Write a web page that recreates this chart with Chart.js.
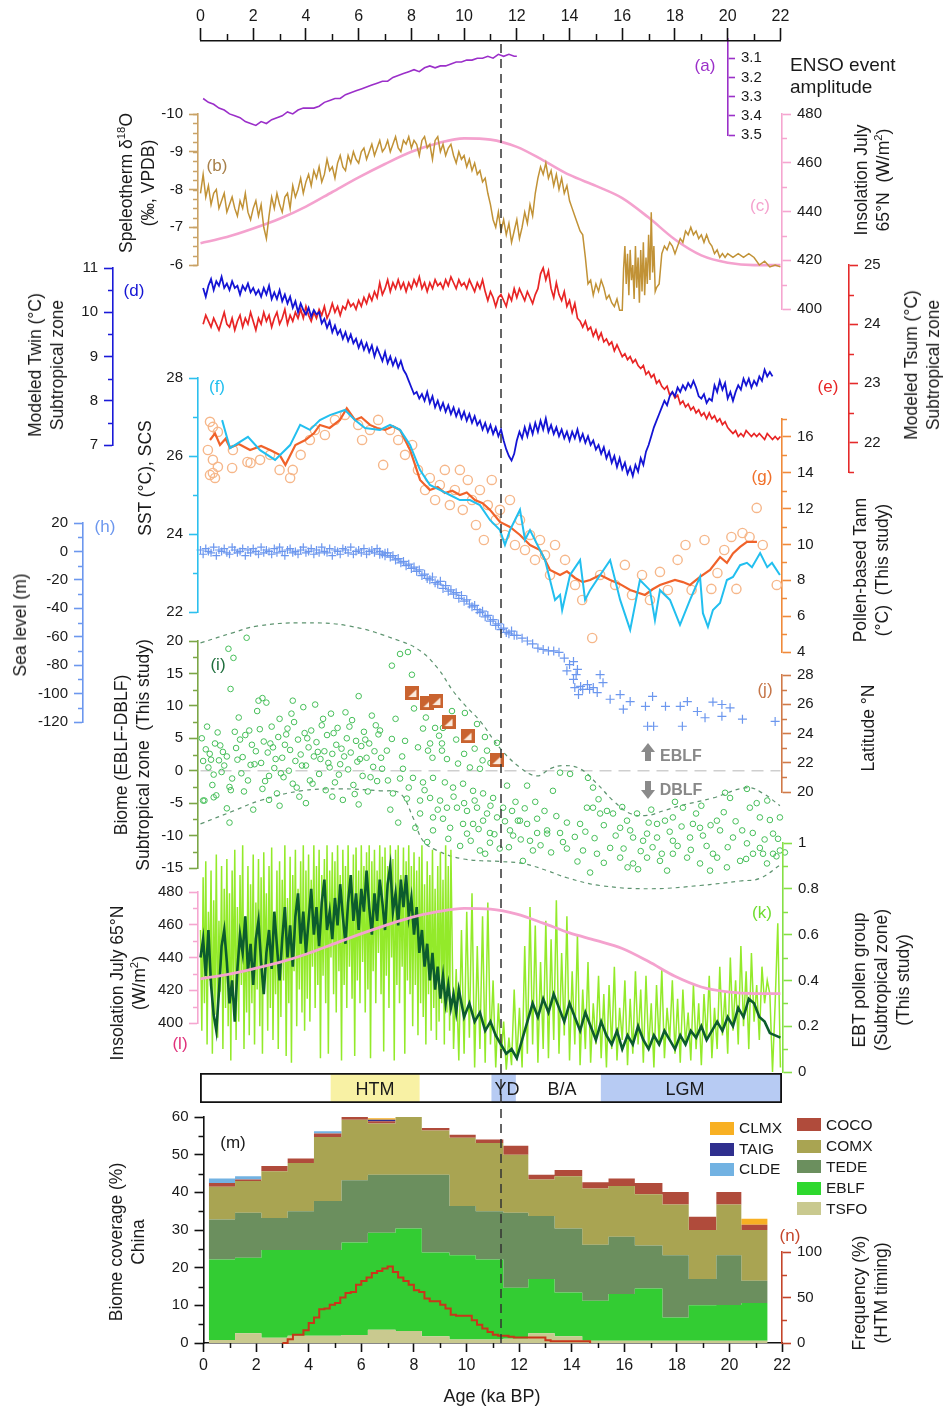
<!DOCTYPE html>
<html lang="en">
<head>
<meta charset="UTF-8">
<title>Holocene records, subtropical China</title>
<script src="https://cdn.jsdelivr.net/npm/chart.js@4"></script>
<style>
  body { margin: 0; background: #fff; }
  #fig { position: relative; width: 943px; height: 1408px; overflow: hidden; background: #fff;
         font-family: "Liberation Sans", Arial, sans-serif; color: #1a1a1a; }
  #fig canvas { position: absolute; left: 0; }
  .t { position: absolute; white-space: nowrap; font-size: 17px; transform: translate(-50%, -50%); }
  .v { position: absolute; white-space: pre; text-align: center; font-size: 17.5px; line-height: 22px;
       transform: translate(-50%, -50%) rotate(-90deg); }
  sup { font-size: 0.65em; line-height: 0; vertical-align: 0.6em; }
  .sw { position: absolute; width: 24px; height: 13px; }
  .lg { position: absolute; font-size: 15.5px; transform: translateY(-50%); }
  .arrow { position: absolute; width: 14px; }
  .arrow .stem { width: 6px; height: 9px; background: #8a8a8a; margin-left: 4px; }
  .arrow .up { width: 0; height: 0; border-left: 7px solid transparent; border-right: 7px solid transparent; border-bottom: 9px solid #8a8a8a; }
  .arrow .dn { width: 0; height: 0; border-left: 7px solid transparent; border-right: 7px solid transparent; border-top: 9px solid #8a8a8a; }
</style>
</head>
<body>
<div id="fig"></div>
<script>
// ---------- data (age in ka BP) ----------
const ensoAge = [0.1,0.3,0.5,0.7,0.9,1.1,1.3,1.5,1.7,1.9,2.1,2.3,2.5,2.7,2.9,3.1,3.3,3.5,3.7,3.9,4.1,4.3,4.5,4.7,4.9,5.1,5.3,5.5,5.7,5.9,6.1,6.3,6.5,6.7,6.9,7.1,7.3,7.5,7.7,7.9,8.1,8.3,8.5,8.7,8.9,9.1,9.3,9.5,9.7,9.9,10.1,10.3,10.5,10.7,10.9,11.1,11.3,11.5,11.7,11.9,12.0];
const ensoVal = [3.31,3.33,3.34,3.36,3.37,3.39,3.40,3.41,3.43,3.44,3.45,3.43,3.44,3.42,3.41,3.40,3.38,3.39,3.37,3.36,3.36,3.36,3.35,3.33,3.32,3.31,3.31,3.29,3.28,3.27,3.26,3.25,3.24,3.23,3.22,3.22,3.20,3.19,3.18,3.17,3.16,3.17,3.15,3.14,3.15,3.14,3.14,3.13,3.12,3.12,3.11,3.11,3.10,3.10,3.09,3.10,3.08,3.09,3.08,3.09,3.09];

const speleo = [[0,-7.9],[0.1,-8.4],[0.2,-7.8],[0.3,-8.1],[0.4,-7.6],[0.5,-7.9],[0.6,-8.0],[0.7,-7.5],[0.8,-7.7],[0.9,-7.9],
[1.0,-7.4],[1.1,-7.6],[1.2,-7.8],[1.3,-7.5],[1.4,-7.3],[1.5,-7.7],[1.6,-7.5],[1.7,-7.9],[1.8,-7.4],[1.9,-7.2],
[2.0,-7.5],[2.1,-7.7],[2.2,-7.3],[2.3,-7.6],[2.4,-7.0],[2.5,-6.7],[2.6,-7.3],[2.7,-7.8],[2.8,-7.5],[2.9,-7.9],
[3.0,-7.6],[3.1,-7.4],[3.2,-7.8],[3.3,-7.9],[3.4,-7.5],[3.5,-8.1],[3.6,-7.8],[3.7,-8.0],[3.8,-8.3],[3.9,-7.9],
[4.0,-8.2],[4.1,-8.4],[4.2,-8.1],[4.3,-8.5],[4.4,-8.3],[4.5,-8.6],[4.6,-8.2],[4.7,-8.4],[4.8,-8.8],[4.9,-8.5],
[5.0,-8.6],[5.1,-8.3],[5.2,-8.7],[5.3,-8.9],[5.4,-8.6],[5.5,-8.5],[5.6,-8.9],[5.7,-8.7],[5.8,-9.0],[5.9,-8.8],
[6.0,-8.7],[6.1,-9.0],[6.2,-9.1],[6.3,-8.8],[6.4,-9.0],[6.5,-9.2],[6.6,-8.9],[6.7,-9.1],[6.8,-9.3],[6.9,-9.0],
[7.0,-9.1],[7.1,-9.3],[7.2,-9.0],[7.3,-9.2],[7.4,-9.4],[7.5,-9.1],[7.6,-9.0],[7.7,-9.3],[7.8,-9.2],[7.9,-9.4],
[8.0,-9.1],[8.1,-9.3],[8.2,-9.2],[8.3,-8.9],[8.4,-9.3],[8.5,-9.4],[8.6,-9.1],[8.7,-9.2],[8.8,-8.8],[8.9,-9.3],
[9.0,-9.4],[9.1,-9.0],[9.2,-9.2],[9.3,-8.9],[9.4,-9.1],[9.5,-9.2],[9.6,-8.9],[9.7,-8.7],[9.8,-9.0],[9.9,-8.8],
[10.0,-8.9],[10.1,-8.6],[10.2,-8.8],[10.3,-8.5],[10.4,-8.7],[10.5,-8.4],[10.6,-8.5],[10.7,-8.2],[10.8,-8.3],[10.9,-7.9],
[11.0,-7.6],[11.1,-7.2],[11.2,-7.0],[11.3,-7.4],[11.4,-6.9],[11.5,-7.2],[11.6,-6.8],[11.7,-7.1],[11.8,-6.6],[11.9,-6.9],
[12.0,-7.2],[12.1,-6.7],[12.2,-7.0],[12.3,-7.4],[12.4,-7.1],[12.5,-7.6],[12.6,-7.3],[12.7,-7.9],[12.8,-8.3],[12.9,-8.6],
[13.0,-8.4],[13.1,-8.7],[13.2,-8.3],[13.3,-8.5],[13.4,-8.1],[13.5,-8.4],[13.6,-8.0],[13.7,-8.3],[13.8,-7.9],[13.9,-8.1],
[14.0,-7.7],[14.1,-7.5],[14.2,-7.3],[14.3,-7.1],[14.4,-6.9],[14.5,-6.8],[14.6,-6.2],[14.7,-5.5],[14.8,-5.6],[14.9,-5.2],
[15.0,-5.5],[15.1,-5.3],[15.2,-5.6],[15.3,-5.4],[15.4,-5.1],[15.5,-5.2],[15.6,-5.0],[15.7,-4.9],[15.8,-5.1],[15.9,-4.8],
[16.0,-4.8],[16.05,-5.9],[16.1,-6.5],[16.15,-5.5],[16.2,-6.3],[16.25,-5.2],[16.3,-6.4],[16.35,-5.6],[16.4,-6.0],[16.45,-5.1],
[16.5,-6.5],[16.55,-5.4],[16.6,-6.2],[16.65,-5.0],[16.7,-6.4],[16.75,-5.3],[16.8,-6.6],[16.85,-5.2],[16.9,-6.2],[16.95,-5.5],
[17.0,-6.8],[17.05,-5.6],[17.1,-7.4],[17.15,-5.8],[17.2,-6.5],[17.25,-5.3],[17.3,-5.4],[17.4,-5.5],[17.5,-6.3],[17.6,-6.5],
[17.7,-6.4],[17.8,-6.6],[17.9,-6.5],[18.0,-6.3],[18.1,-6.5],[18.2,-6.7],[18.3,-6.6],[18.4,-6.9],[18.5,-6.8],[18.6,-7.0],
[18.7,-6.8],[18.8,-6.9],[18.9,-6.7],[19.0,-6.8],[19.1,-6.6],[19.2,-6.8],[19.3,-6.6],[19.4,-6.5],[19.5,-6.3],[19.6,-6.4],
[19.7,-6.2],[19.8,-6.3],[19.9,-6.2],[20.0,-6.3],[20.2,-6.2],[20.4,-6.3],[20.6,-6.2],[20.8,-6.3],[21.0,-6.2],[21.2,-6.0],
[21.4,-6.1],[21.6,-5.95],[21.8,-6.0],[22.0,-5.95]];

const insolAge = [0,1,2,3,4,5,6,7,8,9,10,11,12,13,14,15,16,17,18,19,20,21,22];
const insolVal = [427,429.5,433,437,442,448,454,459.5,464.5,468,470,469.5,466.5,461,455,450.5,445.5,437.5,428.5,422,419,418,418];

// Twin: 0.1 .. 21.7 ka, every 0.1 ka
const twinVal = [10.55,10.35,10.6,10.75,10.5,10.7,10.6,10.8,10.55,10.65,
10.5,10.7,10.55,10.6,10.4,10.6,10.5,10.65,10.45,10.55,
10.4,10.5,10.35,10.55,10.4,10.6,10.3,10.45,10.3,10.5,
10.25,10.4,10.2,10.35,10.1,10.25,10.0,10.2,10.05,9.95,
10.1,9.9,10.05,9.95,10.0,9.75,9.85,9.65,9.8,9.55,
9.7,9.5,9.6,9.4,9.55,9.35,9.5,9.3,9.4,9.2,
9.35,9.15,9.3,9.1,9.25,9.0,9.2,9.05,8.9,9.1,
8.85,9.0,8.8,8.95,8.75,8.9,8.7,8.6,8.45,8.3,
8.15,8.2,8.05,8.15,8.0,8.2,7.95,8.1,7.85,8.0,
7.8,7.95,7.75,7.9,7.7,7.85,7.65,7.8,7.6,7.75,
7.55,7.7,7.5,7.65,7.45,7.55,7.35,7.5,7.3,7.45,
7.25,7.4,7.2,7.35,7.1,6.9,6.75,6.65,6.8,7.1,
7.3,7.15,7.4,7.2,7.45,7.25,7.5,7.3,7.55,7.35,
7.6,7.3,7.45,7.25,7.4,7.2,7.35,7.15,7.3,7.1,
7.3,7.15,7.35,7.1,7.25,7.05,7.2,7.0,7.1,6.9,
7.0,6.8,6.95,6.7,6.85,6.6,6.75,6.5,6.7,6.45,
6.6,6.35,6.5,6.3,6.55,6.4,6.7,6.55,6.85,7.0,
7.2,7.4,7.55,7.7,7.85,8.0,7.9,8.1,8.2,8.1,
8.3,8.2,8.35,8.25,8.4,8.3,8.45,8.3,8.1,8.05,
8.15,7.95,8.05,8.0,8.35,8.2,8.45,8.25,8.4,8.05,
8.2,8.0,8.2,8.35,8.25,8.5,8.35,8.5,8.3,8.45,
8.35,8.55,8.45,8.7,8.55,8.65,8.55];

// Tsum: 0.1 .. 22.0 ka, every 0.1 ka
const tsumVal = [24.0,24.15,24.05,23.95,24.1,24.0,23.9,24.05,24.2,24.0,
23.95,24.1,23.9,24.05,24.15,23.95,24.1,24.0,24.2,24.05,
23.9,24.1,24.0,24.2,24.05,24.15,23.95,24.1,24.2,24.0,
24.1,24.25,24.0,24.15,24.05,24.2,24.1,24.25,24.1,24.3,
24.15,24.05,24.2,24.1,24.25,24.15,24.3,24.1,24.2,24.35,
24.2,24.3,24.15,24.3,24.25,24.4,24.3,24.35,24.25,24.4,
24.3,24.45,24.35,24.5,24.4,24.55,24.45,24.7,24.5,24.6,
24.75,24.55,24.7,24.6,24.75,24.6,24.7,24.55,24.7,24.6,
24.75,24.65,24.8,24.6,24.7,24.55,24.7,24.6,24.75,24.65,
24.7,24.6,24.75,24.65,24.8,24.7,24.6,24.75,24.65,24.7,
24.6,24.75,24.65,24.55,24.7,24.6,24.75,24.55,24.4,24.55,
24.45,24.3,24.45,24.5,24.4,24.3,24.5,24.4,24.6,24.45,
24.6,24.5,24.4,24.55,24.45,24.35,24.5,24.6,24.85,24.95,
24.75,24.9,24.6,24.45,24.7,24.5,24.4,24.55,24.3,24.4,
24.2,24.35,24.1,24.05,23.95,24.05,23.9,23.95,23.8,23.9,
23.75,23.85,23.7,23.75,23.65,23.7,23.55,23.65,23.55,23.45,
23.5,23.4,23.45,23.35,23.4,23.3,23.25,23.3,23.15,23.2,
23.1,23.15,23.0,23.05,22.95,22.9,22.95,22.8,22.85,22.75,
22.8,22.65,22.7,22.6,22.65,22.55,22.6,22.5,22.55,22.45,
22.5,22.4,22.5,22.4,22.45,22.35,22.4,22.3,22.35,22.25,
22.2,22.15,22.2,22.1,22.15,22.1,22.2,22.15,22.1,22.15,
22.1,22.15,22.1,22.05,22.15,22.1,22.05,22.1,22.05,22.1];

const sst = [[0.82,26.92],[1.12,26.2],[1.8,26.49],[2.26,26.15],[2.83,25.9],[3.4,26.28],[3.78,26.8],[4.15,26.67],[4.53,26.92],[4.91,27.05],[5.48,27.18],[5.86,26.92],[6.24,26.72],[6.81,26.67],[7.19,26.8],[7.57,26.67],[7.95,26.28],[8.33,25.64],[8.7,25.26],[9.08,25.13],[9.46,25.0],[9.84,24.87],[10.22,24.87],[10.6,24.74],[10.98,24.36],[11.36,24.1],[11.55,23.72],[11.74,24.1],[11.93,24.36],[12.12,24.62],[12.31,23.85],[12.5,24.1],[13.07,23.33],[13.45,22.31],[13.64,22.44],[13.72,22.05],[14.02,22.95],[14.4,23.33],[14.59,22.31],[14.78,22.56],[15.16,22.95],[15.54,23.33],[15.92,22.31],[16.3,21.54],[16.67,22.82],[17.05,22.56],[17.24,21.79],[17.43,22.56],[17.81,22.31],[18.19,21.67],[18.57,22.31],[18.95,22.9],[19.06,21.97],[19.25,21.62],[19.44,22.05],[19.71,22.23],[19.97,22.82],[20.2,22.9],[20.47,23.2],[20.73,23.26],[20.92,23.15],[21.23,23.51],[21.5,23.15],[21.68,23.26],[21.98,22.95]];

const tannLine = [[0.36,15.83],[0.55,16.2],[0.74,15.55],[0.95,15.9],[1.12,15.39],[1.45,15.6],[1.88,15.27],[2.3,15.5],[2.64,15.27],[3.0,15.0],[3.22,14.44],[3.6,15.55],[3.98,15.83],[4.3,16.2],[4.53,16.67],[4.9,16.5],[5.29,16.95],[5.55,17.6],[5.86,16.95],[6.1,17.1],[6.43,16.67],[6.7,16.5],[7.0,16.39],[7.3,16.6],[7.57,16.39],[7.95,15.27],[8.33,13.6],[8.7,13.04],[9.0,13.2],[9.27,12.87],[9.55,13.0],[9.84,12.76],[10.1,12.9],[10.41,12.48],[10.7,12.3],[10.98,11.93],[11.36,11.26],[11.74,10.98],[12.12,10.53],[12.5,9.97],[12.88,9.69],[13.26,8.58],[13.64,8.3],[13.9,8.5],[14.21,8.13],[14.5,7.9],[14.78,8.02],[15.16,8.3],[15.54,8.02],[15.9,7.8],[16.3,7.46],[16.86,7.18],[17.15,7.5],[17.43,7.74],[18.0,8.02],[18.3,7.9],[18.57,7.74],[18.95,8.19],[19.33,8.58],[19.71,9.3],[19.97,8.97],[20.2,9.5],[20.47,9.86],[20.73,10.14],[21.11,10.14]];

const tannPts = [[0.36,16.84],[0.47,16.56],[0.66,16.28],[0.28,15.27],[0.47,14.72],[0.66,14.33],[0.47,13.99],[0.36,13.88],[0.55,13.71],[1.2,14.27],[1.23,15.27],[1.78,14.6],[1.9,14.55],[2.26,14.72],
[2.64,15.0],[3.0,14.16],[3.4,13.71],[3.5,14.16],[3.8,15.0],[4.15,15.83],[4.34,16.39],[4.72,16.11],[5.1,16.95],[5.48,17.23],[5.67,17.5],[5.98,16.67],[6.13,15.83],[6.43,16.39],[6.74,16.95],[6.93,14.44],[7.19,16.39],[7.5,15.83],[7.76,15.0],[8.03,15.55],[8.25,14.16],[8.52,13.04],[8.7,13.71],[8.9,12.48],[9.08,13.32],[9.27,14.16],[9.46,12.2],[9.65,13.04],[9.84,14.16],[9.95,11.93],[10.14,13.6],[10.3,12.48],[10.45,11.09],[10.6,13.04],[10.75,10.25],[10.9,12.2],[11.05,13.6],[11.2,11.37],[11.36,11.93],[11.55,10.53],[11.74,12.48],[11.93,9.97],[12.12,11.37],[12.31,9.69],[12.5,10.53],[12.69,9.14],[12.88,10.25],[13.07,9.41],[13.26,8.3],[13.45,9.97],[13.83,9.14],[14.21,7.74],[14.48,6.9],[14.86,4.78],[15.16,8.3],[15.73,7.74],[16.1,8.86],[16.37,7.18],[16.75,8.3],[17.05,6.9],[17.43,8.47],[17.73,7.46],[18.1,9.14],[18.4,9.97],[18.63,7.46],[19.12,10.25],[19.38,7.52],[19.61,8.41],[19.87,9.69],[20.14,10.42],[20.33,7.52],[20.56,10.64],[20.83,10.42],[21.1,12.04],[21.33,9.97],[21.86,7.74]];

// sea level: dense Holocene band 0..7 ka every 0.1 ka, then individual samples
const seaBand = [1,-2,2,0,-1,3,-3,1,0,2,-1,-2,3,1,-1,0,2,-3,1,-1,2,0,-2,3,-1,1,0,-2,2,-1,3,0,-3,1,2,-1,0,-2,1,3,-1,0,2,-2,1,-1,3,0,-1,2,-3,1,0,-2,2,1,-1,3,-2,0,1,-1,2,-2,0,1,-1,2,0,-2,-1];
const seaPts = [[6.8,-2],[7.0,-3],[7.1,-1],[7.2,-4],[7.3,-3],[7.4,-6],[7.5,-5],[7.6,-8],[7.7,-7],[7.8,-10],[7.9,-9],[8.0,-12],[8.1,-11],[8.2,-14],[8.3,-13],[8.4,-17],[8.5,-16],[8.6,-19],[8.7,-20],[8.8,-18],[8.9,-22],[9.0,-23],[9.1,-21],[9.2,-26],[9.3,-24],[9.4,-28],[9.5,-27],[9.6,-30],[9.7,-29],[9.8,-33],[9.9,-31],[10.0,-35],[10.1,-34],[10.2,-37],[10.3,-39],[10.4,-38],[10.5,-41],[10.6,-43],[10.7,-42],[10.8,-46],[10.9,-45],[11.0,-49],[11.1,-48],[11.2,-52],[11.3,-51],[11.4,-55],[11.5,-54],[11.6,-57],[11.7,-58],[11.8,-56],[11.9,-59],[12.0,-59],[12.2,-61],[12.4,-63],[12.6,-65],[12.8,-68],[13.0,-69],[13.2,-70],[13.4,-70],[13.6,-71],[13.8,-75],
[14.15,-77.5],[14.3,-83],[14.15,-90],[14.42,-95],[14.68,-93.7],[15.16,-86.7],[15.27,-92.3],[15.05,-99.3],[15.54,-104],[15.92,-100.7],[16.3,-105.6],[16.04,-111],[16.88,-109],[17.15,-102],[16.96,-123],[17.19,-123],[17.64,-109],[18.2,-109],[18.47,-105.6],[18.85,-112.6],[18.28,-123],[19.14,-117],[19.44,-106],[19.78,-107.7],[20.09,-110],[19.78,-116],[20.56,-118],[20.5,-125],[21.13,-125],[20.6,-132],[19.54,-127],[21.8,-119.6],[22.07,-125],
[14.25,-86.7],[14.2,-95.8],[14.5,-97],[14.76,-97],[14.9,-95.8],[14.0,-79.6],[13.9,-84],[14.34,-100.7]];

const biomePts = [[0.05,5.0],[0.1,1.5],[0.15,-4.6],[0.2,3.3],[0.3,0.5],[0.35,2.6],[0.4,1.7],[0.5,-0.6],[0.55,4.2],[0.6,-3.8],
[0.7,1.6],[0.75,3.9],[0.8,-0.2],[0.9,0.8],[1.0,2.2],[1.06,18.8],[1.1,-2.5],[1.14,12.6],[1.25,17.4],[1.25,21.1],
[1.3,6.0],[1.4,1.7],[1.5,4.8],[1.55,-0.4],[1.6,2.1],[1.7,5.5],[1.75,20.5],[1.8,-1.5],[1.85,6.2],[1.9,0.9],
[1.9,20.8],[2.0,-6.0],[2.1,3.0],[2.15,9.2],[2.2,10.8],[2.3,1.2],[2.35,-2.8],[2.4,4.5],[2.5,10.5],[2.55,2.8],
[2.6,-0.8],[2.7,6.8],[2.75,3.6],[2.8,0.4],[2.9,-3.5],[2.95,5.2],[3.0,8.0],[3.1,2.0],[3.15,-1.0],[3.2,4.0],
[3.3,6.5],[3.35,0.0],[3.4,3.2],[3.5,-2.0],[3.55,7.5],[3.6,1.5],[3.7,4.8],[3.75,-4.0],[3.8,2.5],[3.9,9.8],
[3.95,5.8],[4.0,0.8],[4.1,3.6],[4.15,-1.5],[4.2,6.2],[4.3,2.2],[4.35,10.2],[4.4,4.4],[4.5,-0.5],[4.55,1.8],
[4.6,7.0],[4.7,3.0],[4.75,-3.0],[4.8,5.5],[4.9,0.5],[4.95,8.8],[5.0,2.6],[5.1,-1.8],[5.15,4.0],[5.2,6.6],
[5.3,1.0],[5.35,3.4],[5.4,-4.5],[5.5,9.0],[5.55,5.0],[5.6,0.2],[5.7,2.8],[5.75,7.8],[5.8,-2.2],[5.9,4.6],
[5.95,1.4],[6.0,11.5],[6.1,3.8],[6.15,-0.8],[6.2,6.0],[6.3,2.0],[6.35,-3.2],[6.4,4.2],[6.5,8.5],[6.55,0.6],
[6.6,3.0],[6.7,-1.6],[6.75,5.6],[0.1,-4.6],[0.5,-4.1],[1.0,-5.8],[1.1,-8.0],[2.35,11.2],[3.5,10.8],
[0.25,6.8],[0.45,-2.2],[0.65,5.9],[0.85,2.9],[1.2,-1.2],[1.35,3.5],[1.45,8.2],[1.65,-3.2],[1.95,4.0],[2.05,1.0],
[2.25,6.4],[2.45,-1.6],[2.65,4.2],[2.85,1.8],[3.05,-0.4],[3.25,5.6],[3.45,8.8],[3.65,-2.6],[3.85,0.8],[4.05,5.0],
[4.25,-2.0],[4.45,2.9],[4.65,8.0],[4.85,1.2],[5.05,5.8],[5.25,-0.6],[5.45,2.2],[5.65,6.8],[5.85,-3.6],[6.05,1.8],
[6.25,4.8],[6.45,-1.0],[6.65,7.0],[6.85,2.0],[1.15,-3.0],[2.6,-4.5],[4.0,-5.0],[5.0,-4.0],[6.0,-5.2],[3.0,-5.4],
[6.81,6.2],[7.26,4.9],[7.76,4.6],[7.07,3.1],[6.89,0.3],[7.68,0.3],[8.44,6.5],[8.9,6.6],[9.2,6.6],[8.71,4.2],[9.16,4.2],[8.63,3.1],[9.16,3.1],[9.77,1.1],[10.22,0.5],[10.6,0.3],[7.57,18.0],[7.87,18.3],[7.26,16.2],[8.02,14.8],[9.54,9.2],[10.03,8.9],[10.49,7.2],[10.79,5.2],[10.87,3.1],[11.25,4.3],
[7.4,8.0],[7.65,2.2],[8.1,9.6],[8.25,3.6],[8.55,8.2],[8.8,2.0],[9.05,5.4],[9.35,1.8],[9.7,4.8],[10.0,2.6],[10.4,3.4],[10.7,1.6],[11.0,1.2],
[7.11,-1.5],[7.57,-1.2],[8.06,-1.1],[8.44,-1.8],[8.82,-1.1],[9.27,-1.8],[9.58,-2.6],[9.96,-2.0],[10.34,-3.1],[10.72,-3.5],[11.1,-4.2],[11.48,-5.7],[11.82,-6.2],[12.12,-7.7],[12.39,-8.2],[12.77,-9.6],[13.15,-9.7],[7.3,-3.5],[7.83,-4.3],[8.33,-4.6],[8.71,-4.2],[9.09,-4.6],[9.35,-5.7],[9.73,-5.7],[10.11,-6.2],[10.49,-5.7],[10.87,-6.6],[11.25,-7.2],[8.33,-6.6],[8.82,-7.2],[9.2,-7.4],[9.96,-8.2],[10.34,-8.2],[10.72,-7.7],[10.98,-9.6],[8.82,-9.2],[9.47,-8.8],[10.11,-9.7],[10.98,-11.1],[10.6,-12.3],[11.74,-9.2],[11.86,-10.0],[12.04,-7.7],[12.61,-12.3],[12.23,-13.9],[12.77,-7.4],[13.15,-9.2],[13.64,-9.6],[13.9,-8.0],[14.4,-8.2],[14.66,-5.7],[14.89,-5.7],[15.16,-6.6],[13.64,-0.3],[14.02,-0.5],[14.7,-1.1],[14.89,-2.6],[13.37,-3.1],[12.39,-2.3],[11.63,-2.3],
[7.2,-6.0],[7.5,-8.0],[7.9,-2.6],[8.15,-8.8],[8.5,-3.0],[8.6,-11.0],[9.0,-6.0],[9.4,-10.5],[9.6,-4.0],[9.85,-11.6],[10.0,-5.0],[10.25,-10.8],[10.4,-4.6],[10.55,-9.0],[10.8,-12.8],[11.0,-5.4],[11.15,-9.8],[11.35,-12.0],[11.55,-7.8],[11.7,-11.8],[11.95,-4.8],[12.15,-10.6],[12.3,-5.8],[12.5,-10.8],[12.7,-4.8],[12.9,-11.5],[13.05,-6.2],[13.3,-12.6],[13.5,-7.0],[13.75,-11.0],
[15.42,-6.2],[15.65,-6.6],[16.18,-7.7],[16.56,-6.6],[16.94,-9.7],[17.32,-8.2],[17.62,-7.7],[17.92,-7.2],[18.3,-5.7],[18.68,-8.2],[18.95,-8.8],[19.59,-7.7],[20.09,-4.2],[20.73,-2.8],[20.84,-5.7],[21.22,-7.2],[21.72,-9.7],[21.98,-7.2],[15.92,-8.8],[16.41,-10.3],[16.79,-10.8],[17.32,-10.3],[17.92,-10.8],[18.57,-10.3],[19.06,-10.0],[19.71,-9.2],[20.2,-10.3],[20.73,-11.2],[21.22,-11.9],[21.98,-12.3],[14.51,-12.3],[15.04,-12.8],[15.54,-11.9],[15.92,-13.4],[16.41,-14.3],[16.94,-13.4],[17.43,-13.9],[17.92,-12.8],[18.46,-13.4],[18.95,-14.3],[19.44,-12.8],[19.97,-14.9],[20.47,-13.9],[20.96,-12.8],[21.49,-14.3],[13.9,-15.9],[14.78,-15.7],[15.65,-15.9],[16.2,-14.9],[16.6,-15.2],[17.7,-15.4],[19.33,-15.4],[20.7,-13.6],[21.34,-12.8],[21.72,-12.8],[21.91,-10.5],[22.17,-12.6],
[13.9,-12.0],[14.2,-10.2],[14.3,-14.0],[14.6,-9.4],[14.95,-10.4],[15.3,-8.4],[15.3,-14.2],[15.75,-10.0],[16.05,-12.0],[16.3,-9.2],[16.7,-12.4],[17.0,-8.0],[17.15,-11.8],[17.5,-12.8],[17.8,-9.4],[18.1,-11.6],[18.25,-8.6],[18.6,-12.2],[18.8,-6.6],[19.2,-11.6],[19.35,-8.4],[19.6,-13.4],[19.85,-6.4],[20.0,-11.8],[20.3,-7.8],[20.55,-9.2],[20.95,-9.6],[21.1,-5.0],[21.4,-10.6],[21.6,-7.6],[21.85,-13.2],[15.1,-4.4],[16.0,-5.6],[17.1,-6.0],[18.0,-4.8],[19.0,-5.4],[19.9,-3.4],[21.5,-4.6]];

const biomeUpper = [[0,19.7],[1.25,21.3],[2.14,22.3],[3.81,22.8],[5.67,22.3],[7.57,20.0],[8.33,18.5],[9.0,15.8],[9.58,12.3],[10.1,9.8],[10.6,7.7],[11.36,3.5],[12.12,0.5],[12.77,-0.8],[13.26,0.3],[13.75,0.8],[14.4,0.3],[15.04,-2.0],[15.65,-4.6],[16.3,-6.6],[16.94,-6.9],[17.55,-6.2],[18.2,-5.4],[19.44,-4.2],[20.73,-2.6],[21.34,-3.5],[21.98,-5.4]];
const biomeLower = [[0,-8.2],[1.25,-6.2],[2.26,-4.6],[3.81,-3.1],[5.33,-2.8],[6.81,-3.1],[7.57,-3.5],[8.06,-7.2],[8.44,-10.8],[8.97,-12.3],[9.96,-13.6],[11.36,-14.0],[12.23,-14.3],[13.15,-15.4],[13.9,-16.5],[15.16,-17.7],[17.05,-18.2],[18.95,-17.7],[20.47,-17.0],[21.22,-16.6],[22.0,-14.5]];

const latPts = [[8.04,26.77],[8.61,26.08],[8.95,26.22],[9.41,24.78],[10.13,23.82],[11.23,22.18]];

// EBT pollen group: 0..9.5 ka every 0.05 ka, then 9.6..22 ka every 0.1 ka
const ebtDense = [.62,.18,.85,.30,.92,.12,.70,.40,.88,.08,.75,.25,.95,.15,.66,.35,.90,.10,.80,.28,.93,
.20,.78,.05,.88,.32,.97,.14,.72,.22,.86,.38,.99,.10,.68,.26,.90,.16,.82,.30,.95,
.12,.74,.36,.93,.20,.85,.08,.96,.42,.78,.18,.90,.28,.98,.14,.70,.34,.88,.10,.92,
.24,.84,.40,.99,.07,.76,.30,.94,.04,.86,.44,.97,.20,.80,.36,.92,.26,.99,.18,.88,
.32,.95,.22,.84,.46,.99,.28,.90,.38,.97,.06,.86,.42,.93,.30,.99,.08,.88,.50,.96,
.34,.92,.26,.99,.44,.86,.05,.97,.38,.90,.28,.99,.46,.84,.32,.95,.07,.98,.40,.88,
.30,.99,.48,.90,.26,.96,.36,.99,.06,.92,.44,.97,.30,.88,.52,.99,.34,.94,.09,.98,
.42,.90,.28,.99,.50,.93,.05,.97,.38,.99,.30,.86,.46,.98,.08,.92,.40,.99,.34,.90,
.20,.96,.38,.88,.16,.94,.30,.99,.24,.82,.12,.92,.34,.86,.18,.97,.28,.80,.14,.90,
.22,.96,.30,.84,.12,.99,.26,.90,.18,.97];
const ebtSparse = [.10,.45,.05,.62,.08,.70,.15,.78,.02,.55,
.10,.68,.04,.74,.12,.40,.02,.30,.06,.22,
.01,.15,.03,.36,.05,.28,.02,.55,.08,.72,
.12,.64,.04,.48,.10,.66,.06,.58,.14,.75,
.08,.52,.16,.68,.05,.44,.12,.60,.03,.36,
.10,.48,.04,.30,.12,.42,.06,.34,.02,.38,
.10,.46,.05,.28,.14,.40,.03,.32,.08,.44,
.12,.36,.04,.42,.10,.30,.02,.38,.12,.45,
.06,.28,.14,.40,.08,.32,.04,.36,.12,.26,
.05,.38,.10,.30,.03,.34,.14,.42,.06,.28,
.10,.46,.16,.35,.08,.50,.18,.40,.12,.55,
.20,.44,.10,.52,.22,.38,.14,.46,.30,.40,
.34,.00,.30,.65,.02];
// smoothed EBT: 0..10 ka every 0.1 ka, then 10.2..22 ka every 0.2 ka
const ebtSmoothA = [.50,.58,.42,.62,.38,.25,.18,.35,.55,.62,
.48,.30,.40,.22,.45,.60,.52,.68,.44,.56,
.38,.58,.66,.48,.34,.52,.62,.45,.70,.55,
.40,.58,.72,.50,.64,.46,.68,.78,.56,.70,
.52,.66,.80,.60,.72,.55,.74,.84,.62,.70,
.58,.76,.64,.82,.68,.56,.74,.86,.66,.78,
.62,.80,.70,.88,.72,.60,.78,.66,.84,.74,
.62,.82,.90,.70,.78,.64,.84,.72,.86,.68,
.76,.60,.72,.52,.62,.46,.56,.40,.52,.36,
.46,.32,.42,.30,.38,.28,.34,.26,.36,.30,.24];
const ebtSmoothB = [.30,.22,.26,.18,.22,.16,.12,.08,.10,.06,
.14,.22,.30,.24,.32,.26,.34,.28,.22,.30,
.24,.18,.26,.20,.14,.22,.16,.12,.18,.10,
.16,.12,.20,.14,.10,.16,.12,.18,.14,.10,
.16,.12,.18,.15,.20,.14,.18,.22,.18,.24,
.20,.28,.24,.32,.30,.24,.22,.17,.16,.15];

const periods = ['HTM', 'YD', 'B/A', 'LGM'];
const periodSpan = [[4.95, 8.3], [11.05, 11.95], null, [15.2, 22.06]];

// biome coverage of China, 21 time slices (bin start ages, last edge 21.45)
const binStart = [0.2,1.2,2.2,3.2,4.2,5.25,6.25,7.3,8.3,9.35,10.35,11.4,12.35,13.35,14.4,15.4,16.4,17.45,18.45,19.5,20.45];
const binLastEdge = 21.45;
const biomeNames = ['TSFO','EBLF','TEDE','COMX','COCO','CLDE','TAIG','CLMX'];
const cover = {
  TSFO: [0.8,2.6,1.4,1.9,1.9,2.1,3.5,3.2,1.8,0.9,0.9,1.1,2.6,1.8,0.6,0.6,0.6,0.6,0.6,0.6,0.6],
  EBLF: [21.4,20.0,23.3,22.8,22.8,24.6,25.8,27.2,22.2,22.4,21.3,13.6,14.4,11.6,10.6,12.4,13.9,6.2,9.4,9.5,10.0],
  TEDE: [10.6,12.0,8.5,10.3,13.0,16.5,15.4,14.3,20.7,13.1,12.8,19.9,16.7,17.0,14.9,15.2,11.4,16.5,7.0,13.2,5.9],
  COMX: [8.7,8.4,12.4,12.8,17.0,16.1,13.6,16.4,11.7,18.1,18.1,15.4,9.7,13.9,14.9,13.5,13.6,13.5,13.0,13.5,13.5],
  COCO: [1.0,0.4,1.4,1.2,0.9,0.7,0.6,0,0.7,0.8,0.9,2.4,1.3,1.6,1.7,2.0,3.0,3.3,3.5,3.3,1.4],
  CLDE: [1.2,0.9,0,0,0.6,0,0,0,0,0,0,0,0,0,0,0,0,0,0,0,0],
  TAIG: [0,0,0,0,0,0,0.4,0,0,0,0,0,0,0,0,0,0,0,0,0,0],
  CLMX: [0,0,0,0,0,0,0.4,0,0,0,0,0,0,0,0,0,0,0,0,0,1.6]
};
const coverColor = { TSFO:'#C9C98F', EBLF:'#33CC33', TEDE:'#6B8F5E', COMX:'#A9A452', COCO:'#B04B3B',
                     CLDE:'#72B2E2', TAIG:'#2F2F8E', CLMX:'#F8B023' };

// HTM timing frequency (%)
const htmFreq = [[3.0,0],[3.2,4],[3.4,9],[3.6,9],[3.8,14],[4.0,22],[4.2,28],[4.4,37],[4.6,38],[4.8,42],[5.0,44],[5.2,50],[5.4,55],[5.6,56],[5.8,64],[6.0,68],[6.2,72],[6.4,77],[6.6,79],[6.8,82],[7.0,84],[7.2,78],[7.4,72],[7.6,68],[7.8,64],[8.0,58],[8.2,56],[8.4,49],[8.6,46],[8.8,46],[9.0,42],[9.2,38],[9.4,31],[9.6,30],[9.8,30],[10.0,30],[10.2,25],[10.4,20],[10.6,16],[10.8,12],[11.0,9],[11.2,8],[11.4,8],[11.6,7],[11.8,6],[12.0,6],[12.4,6],[12.8,6],[13.0,3],[13.2,2],[14.6,2],[14.7,0]];

const ydLine = 11.4;

// ---------- layout ----------
const X0 = 200.5, KX = 26.36;   // upper panels: page x of age 0, px per ka
const XB = 203.5, KB = 26.3;    // biome coverage panel
const fig = document.getElementById('fig');
Chart.defaults.font.family = '"Liberation Sans", Arial, sans-serif';
Chart.defaults.font.size = 15;
Chart.defaults.color = '#1a1a1a';

const pts = a => a.map(([x, y]) => ({x, y}));
const zip = (xs, ys) => xs.map((x, i) => ({x, y: ys[i]}));
const reg = (start, step, vals) => vals.map((y, i) => ({x: +(start + i * step).toFixed(3), y}));
const line = (data, color, width, extra) => Object.assign({data, borderColor: color, borderWidth: width,
  pointRadius: 0, fill: false, tension: 0, clip: false}, extra || {});
const dots = (data, color, r, extra) => Object.assign({data, showLine: false, pointRadius: r,
  pointBorderColor: color, pointBackgroundColor: 'rgba(0,0,0,0)', pointBorderWidth: 1.2, borderColor: color,
  clip: false}, extra || {});

const minorTicks = {
  id: 'minorTicks',
  afterDraw(chart, args, opts) {
    const ctx = chart.ctx;
    (opts.marks || []).forEach(m => {
      const s = chart.scales[m.axis];
      ctx.save();
      ctx.strokeStyle = m.color;
      ctx.lineWidth = 1.5;
      ctx.beginPath();
      for (let v = m.from; v <= m.to + 1e-9; v += m.step) {
        const p = Math.round(s.getPixelForValue(v)) + 0.5;
        if (m.axis === 'y') {
          const x = s.position === 'left' ? s.right : s.left;
          ctx.moveTo(x, p); ctx.lineTo(x + (s.position === 'left' ? -m.len : m.len), p);
        } else {
          const y = s.position === 'top' ? s.bottom : s.top;
          ctx.moveTo(p, y); ctx.lineTo(p, y + (s.position === 'top' ? -m.len : m.len));
        }
      }
      ctx.stroke();
      ctx.restore();
    });
  }
};

function panel(p) {
  const W = p.axisW || 52, xH = p.xH || 0;
  const margin = p.margin == null ? 30 : p.margin;
  const top = Math.floor(p.T) - margin;
  const below = p.below || 30;
  const h = Math.ceil(p.B) - top + below;
  const cv = document.createElement('canvas');
  cv.width = 943; cv.height = h; cv.style.top = top + 'px';
  fig.appendChild(cv);
  const x0 = p.x0 || X0, kx = p.kx || KX;
  const pad = {
    top: p.T - top - (p.xPos === 'top' ? xH : 0),
    bottom: h - (p.B - top) - (p.xPos === 'bottom' ? xH : 0),
    left: p.side === 'left' ? p.L - W : p.L,
    right: p.side === 'right' ? 943 - p.R - W : 943 - p.R
  };
  const col = p.color || '#111';
  const yScale = p.yCat ? { type: 'category', display: false } : {
    type: 'linear', position: p.side || 'left', display: !!p.side, min: p.min, max: p.max,
    reverse: !!p.reverse, stacked: !!p.stacked,
    afterFit: s => { if (p.side) s.width = W; },
    afterBuildTicks: s => { if (p.ticks) s.ticks = p.ticks.map(v => ({value: v})); },
    border: { display: true, color: col, width: 1.6 },
    grid: { drawOnChartArea: false, tickLength: p.tickLen || 9, tickColor: col, tickWidth: 1.6 },
    ticks: { padding: 6, autoSkip: false, callback: v => String(v) }
  };
  const marks = [];
  if (p.minor) marks.push({axis: 'y', from: p.minor[0], to: p.minor[1], step: p.minor[2], len: 5, color: col});
  if (p.xMinor) marks.push({axis: 'x', from: p.xMinor[0], to: p.xMinor[1], step: p.xMinor[2], len: p.xMinorLen || 6, color: '#111'});
  return new Chart(cv, {
    type: p.type || 'line',
    data: { labels: p.labels, datasets: p.datasets },
    options: {
      responsive: false, animation: false, events: [], devicePixelRatio: 1,
      indexAxis: p.indexAxis || 'x',
      layout: { padding: pad },
      plugins: { legend: { display: false }, tooltip: { enabled: false }, minorTicks: { marks } },
      scales: {
        x: {
          type: 'linear', min: (p.L - x0) / kx, max: (p.R - x0) / kx,
          display: !!p.xPos, position: p.xPos || 'bottom',
          afterFit: s => { if (p.xPos) s.height = xH; },
          afterBuildTicks: s => { if (p.xTicks) s.ticks = p.xTicks.map(v => ({value: v})); },
          border: { display: true, color: '#111', width: 1.6 },
          grid: { drawOnChartArea: false, tickLength: p.xTickLen || 9, tickColor: '#111', tickWidth: 1.6 },
          ticks: { font: { size: 16 }, padding: p.xPad == null ? 4 : p.xPad, maxRotation: 0, autoSkip: false, callback: v => String(v) }
        },
        y: yScale
      }
    },
    plugins: [minorTicks]
  });
}

const R22 = X0 + 22 * KX;
const evenAges = [0,2,4,6,8,10,12,14,16,18,20,22];

// period strip
panel({ type: 'bar', indexAxis: 'y', yCat: true, labels: ['p'], L: 200, R: 782, T: 1073, B: 1103,
  datasets: [
    { data: [[(200 - X0) / KX, (782 - X0) / KX]], backgroundColor: 'rgba(0,0,0,0)', borderColor: '#111',
      borderWidth: 1.5, borderSkipped: false, grouped: false, barPercentage: 1, categoryPercentage: 1 },
    { data: [periodSpan[0]], backgroundColor: '#F8F1A4', grouped: false, barPercentage: 1, categoryPercentage: 1 },
    { data: [periodSpan[1]], backgroundColor: '#B7CBF3', grouped: false, barPercentage: 1, categoryPercentage: 1 },
    { data: [periodSpan[3]], backgroundColor: '#B7CBF3', grouped: false, barPercentage: 1, categoryPercentage: 1 }
  ] });

// (m) biome coverage, stacked steps
const edges = binStart.concat([binLastEdge]);
panel({ side: 'left', L: XB, R: XB + 22 * KB, T: 1117, B: 1343, x0: XB, kx: KB, min: 0, max: 60, stacked: true,
  ticks: [0,10,20,30,40,50,60], minor: [5, 55, 10], color: '#111',
  xPos: 'bottom', xH: 45, below: 65, xTicks: evenAges, xMinor: [1, 21, 2], xMinorLen: 5,
  datasets: biomeNames.map((n, k) => ({
    data: edges.map((x, i) => ({x, y: cover[n][Math.min(i, cover[n].length - 1)]})),
    stepped: 'before', borderWidth: 0, borderColor: 'rgba(0,0,0,0)', pointRadius: 0,
    backgroundColor: coverColor[n], fill: k === 0 ? 'origin' : '-1'
  })) });

// (n) HTM timing frequency
panel({ side: 'right', L: XB, R: 782, T: 1252, B: 1343, x0: XB, kx: KB, min: 0, max: 100,
  ticks: [0, 50, 100], minor: [25, 75, 50], color: '#C4452A',
  datasets: [line(pts(htmFreq), '#C8361A', 2, { stepped: 'before' })] });

// (c) insolation
panel({ side: 'right', L: X0, R: 782, T: 114, B: 309, min: 400, max: 480,
  ticks: [400,420,440,460,480], minor: [410, 470, 20], color: '#F5A6D0',
  datasets: [line(zip(insolAge, insolVal), '#F4A2CE', 2.6, { cubicInterpolationMode: 'monotone' })] });

// (b) speleothem
panel({ side: 'left', L: 198, R: R22, T: 114, B: 265, below: 70, min: -10, max: -6, reverse: true,
  ticks: [-10,-9,-8,-7,-6], minor: [-10, -6, 0.25], color: '#C9A266',
  datasets: [line(pts(speleo), '#C19236', 1.5)] });

// (a) ENSO
panel({ side: 'right', L: X0, R: 728, T: 39, B: 135, min: 3.0, max: 3.5, reverse: true, tickLen: 7,
  ticks: [3.1,3.2,3.3,3.4,3.5], color: '#9B30C8',
  datasets: [line(zip(ensoAge, ensoVal), '#9B2FC9', 1.6)] });

// (e) Tsum
panel({ side: 'right', L: X0, R: 849, T: 265, B: 472, min: 21.5, max: 25,
  ticks: [22,23,24,25], minor: [21.5, 24.5, 1], color: '#E52A2A',
  datasets: [line(reg(0.1, 0.1, tsumVal), '#E82525', 1.7)] });

// (d) Twin
panel({ side: 'left', L: 113, R: R22, T: 268, B: 445, below: 50, min: 7, max: 11,
  ticks: [7,8,9,10,11], minor: [7.5, 10.5, 1], color: '#1A1AD8',
  datasets: [line(reg(0.1, 0.1, twinVal), '#1414D4', 1.8)] });

// (h) sea level
panel({ side: 'left', L: 83, R: R22, T: 523, B: 722, min: -120, max: 20,
  ticks: [-120,-100,-80,-60,-40,-20,0,20], minor: [-110, 10, 20], color: '#6C97EE',
  datasets: [
    dots(reg(0, 0.1, seaBand), '#6C97EE', 4, { pointStyle: 'cross', pointBorderWidth: 1.2 }),
    dots(pts(seaPts), '#6C97EE', 4.5, { pointStyle: 'cross', pointBorderWidth: 1.2 })
  ] });

// (g) pollen-based Tann  (first dataset is painted on top)
panel({ side: 'right', L: X0, R: 782, T: 419, B: 652, min: 4, max: 17,
  ticks: [4,6,8,10,12,14,16], minor: [5, 17, 2], color: '#F08A3A',
  datasets: [
    line(pts(tannLine), '#F0622A', 2.2),
    dots(pts(tannPts), '#F6B78A', 4.6, { pointBorderWidth: 1.4 })
  ] });

// (f) SST
panel({ side: 'left', L: 198, R: R22, T: 378, B: 612, min: 22, max: 28,
  ticks: [22,24,26,28], minor: [23, 27, 2], color: '#2CC0EE',
  datasets: [line(pts(sst), '#22BFEF', 2)] });

// (i) biome EBLF-DBLF
panel({ side: 'left', L: 198, R: R22, T: 641, B: 868, below: 40, min: -15, max: 20,
  ticks: [-15,-10,-5,0,5,10,15,20], minor: [-12.5, 17.5, 5], color: '#7BA646',
  datasets: [
    dots(pts(biomePts), '#45BE58', 2.8, { pointBorderWidth: 1 }),
    line(pts(biomeUpper), '#5E9470', 1.2, { borderDash: [4, 4], tension: 0.4 }),
    line(pts(biomeLower), '#5E9470', 1.2, { borderDash: [4, 4], tension: 0.4 }),
    line([{x: 0, y: 0}, {x: 22, y: 0}], '#CFCFCF', 1.6, { borderDash: [12, 7] })
  ] });

// (j) latitude
const sq = document.createElement('canvas');
sq.width = sq.height = 14;
const sc = sq.getContext('2d');
sc.fillStyle = '#C9632F'; sc.fillRect(0, 0, 14, 14);
sc.fillStyle = '#FBEBDD';
sc.beginPath(); sc.moveTo(3, 11); sc.lineTo(11, 3.5); sc.lineTo(11, 11); sc.closePath(); sc.fill();
panel({ side: 'right', L: X0, R: 782, T: 675, B: 792, min: 20, max: 28,
  ticks: [20,22,24,26,28], minor: [21, 27, 2], color: '#D07A48',
  datasets: [dots(pts(latPts), '#C9632F', 7, { pointStyle: sq })] });

// (k) EBT pollen group: smoothed curve above the raw one
panel({ side: 'right', L: X0, R: 783, T: 843, B: 1072, min: 0, max: 1,
  ticks: [0,0.2,0.4,0.6,0.8,1], minor: [0.1, 0.9, 0.2], color: '#86E046',
  datasets: [
    line(reg(0, 0.1, ebtSmoothA).concat(reg(10.2, 0.2, ebtSmoothB)), '#0C5C2D', 2.6),
    line(reg(0, 0.05, ebtDense).concat(reg(9.6, 0.1, ebtSparse)), '#93EA2A', 1.5)
  ] });

// (l) insolation again
panel({ side: 'left', L: 198, R: R22, T: 892, B: 1023, min: 400, max: 480,
  ticks: [400,420,440,460,480], minor: [410, 470, 20], color: '#F5A6D0',
  datasets: [line(zip(insolAge, insolVal), '#F4A2CE', 2.8, { cubicInterpolationMode: 'monotone' })] });

// top age axis (scale box tall enough that its labels are not clipped)
panel({ L: X0, R: R22, T: 41, B: 45, margin: 41, below: 15, xPos: 'top', xH: 39, xTickLen: 13, xPad: 2,
  xTicks: evenAges, xMinor: [1, 21, 2], xMinorLen: 7, min: 0, max: 1, datasets: [] });

// Younger Dryas onset guide
panel({ L: X0, R: R22, T: 41, B: 1343, min: 0, max: 1,
  datasets: [line([{x: ydLine, y: 0}, {x: ydLine, y: 1}], '#333', 1.5, { borderDash: [9, 6] })] });

// ---------- text ----------
function txt(html, x, y, css) {
  const d = document.createElement('div');
  d.className = 't'; d.innerHTML = html;
  d.style.left = x + 'px'; d.style.top = y + 'px';
  if (css) d.style.cssText += css;
  fig.appendChild(d); return d;
}
function vtxt(html, x, y, css) {
  const d = txt(html, x, y, css); d.className = 'v'; return d;
}

vtxt('Speleotherm δ<sup>18</sup>O\n(‰, VPDB)', 137, 183);
vtxt('Insolation July\n65°N  (W/m<sup>2</sup>)', 872, 180);
vtxt('Modeled Twin (°C)\nSubtropical zone', 46, 365);
vtxt('Modeled Tsum (°C)\nSubtropical zone', 922, 365);
vtxt('SST (°C), SCS', 145, 478);
vtxt('Pollen-based Tann\n(°C)  (This study)', 871, 570);
vtxt('Sea level (m)', 20, 625);
vtxt('Biome (EBLF-DBLF)\nSubtropical zone  (This study)', 132, 755);
vtxt('Latitude °N', 868, 728);
vtxt('EBT pollen group\n(Subtropical zone)\n(This study)', 881, 980);
vtxt('Insolation July 65°N\n(W/m<sup>2</sup>)', 128, 983);
vtxt('Biome coverage (%)\nChina', 127, 1242);
vtxt('Frequency (%)\n(HTM timing)', 870, 1293);

txt('ENSO event<br>amplitude', 790, 54, 'transform:none;font-size:19px;line-height:22px;');
txt('(a)', 705, 66, 'color:#9B2FC9;');
txt('(b)', 217, 166, 'color:#A8804A;');
txt('(c)', 760, 206, 'color:#F4A2CE;');
txt('(d)', 134, 291, 'color:#1414D4;');
txt('(e)', 828, 387, 'color:#E82525;');
txt('(f)', 217, 387, 'color:#22BFEF;');
txt('(g)', 762, 477, 'color:#F0702A;');
txt('(h)', 105, 527, 'color:#6C97EE;');
txt('(i)', 218, 665, 'color:#1E6E3C;');
txt('(j)', 765, 690, 'color:#C57548;');
txt('(k)', 762, 913, 'color:#6EDD2E;');
txt('(l)', 180, 1044, 'color:#E0307A;');
txt('(m)', 233, 1143);
txt('(n)', 790, 1236, 'color:#C4452A;');
txt('EBLF', 681, 756, 'color:#888;font-weight:bold;font-size:16px;');
txt('DBLF', 681, 790, 'color:#888;font-weight:bold;font-size:16px;');
txt('Age (ka BP)', 492, 1396, 'font-size:18px;');

// period names
[[375, 0], [507, 1], [562, 2], [685, 3]].forEach(([x, i]) => txt(periods[i], x, 1089, 'font-size:18px;'));

// EBLF / DBLF arrows
const up = document.createElement('div');
up.className = 'arrow'; up.style.left = '641px'; up.style.top = '743px';
up.innerHTML = '<div class="up"></div><div class="stem"></div>';
fig.appendChild(up);
const dn = document.createElement('div');
dn.className = 'arrow'; dn.style.left = '641px'; dn.style.top = '781px';
dn.innerHTML = '<div class="stem"></div><div class="dn"></div>';
fig.appendChild(dn);

// legend
const legendLeft = [['CLMX', 1128], ['TAIG', 1149], ['CLDE', 1169]];
const legendRight = [['COCO', 1124.5], ['COMX', 1146], ['TEDE', 1166.5], ['EBLF', 1188], ['TSFO', 1208.5]];
function legendItem(name, xs, y) {
  const s = document.createElement('div');
  s.className = 'sw'; s.style.left = xs + 'px'; s.style.top = (y - 6.5) + 'px';
  s.style.background = name === 'EBLF' ? '#2ED82E' : coverColor[name];
  fig.appendChild(s);
  const l = document.createElement('div');
  l.className = 'lg'; l.textContent = name; l.style.left = (xs + 29) + 'px'; l.style.top = y + 'px';
  fig.appendChild(l);
}
legendLeft.forEach(([n, y]) => legendItem(n, 710, y));
legendRight.forEach(([n, y]) => legendItem(n, 797, y));
</script>
</body>
</html>
